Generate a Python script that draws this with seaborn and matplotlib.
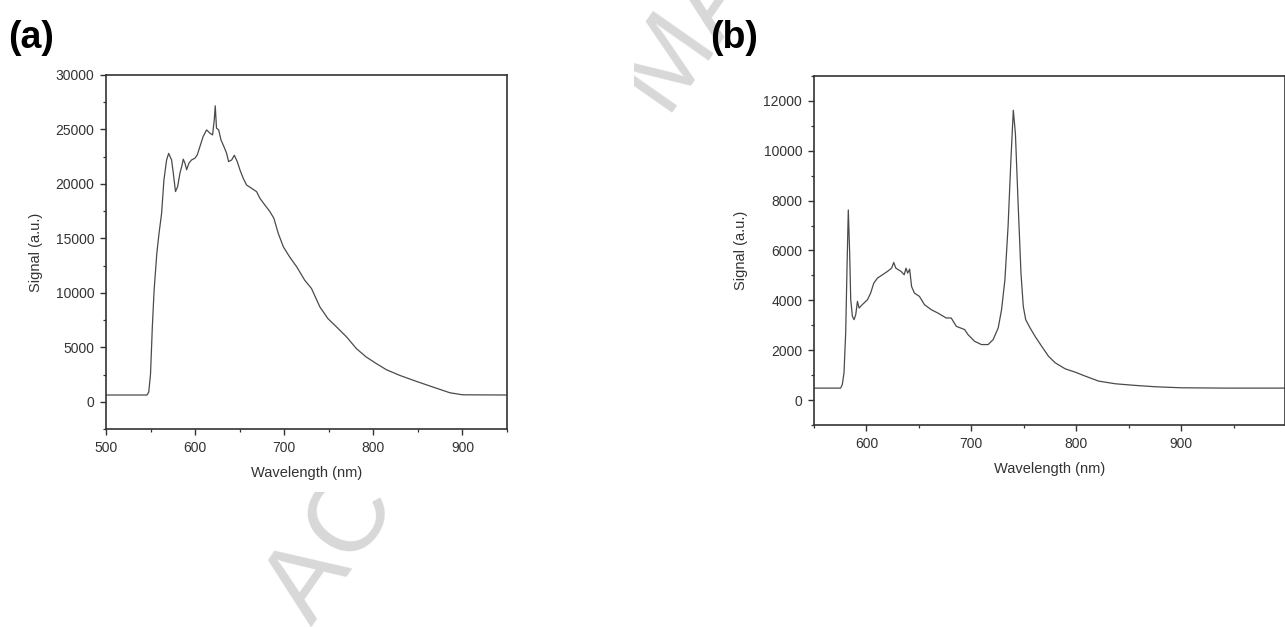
import numpy as np
import pandas as pd
import matplotlib
matplotlib.use("Agg")
import matplotlib.pyplot as plt
from matplotlib.patches import Rectangle
from matplotlib.ticker import MultipleLocator
import seaborn as sns

# panel (a): broad emission spectrum
wl_a = [500, 546, 548, 550, 552, 554, 557, 559.5, 562.4, 565, 568, 570.3, 573.6,
        575.5, 578, 580.4, 583, 585, 586.7, 588.6, 590.5, 593, 596, 599.8, 602.4,
        605.4, 609, 612.9, 616.6, 619.6, 621.5, 622.6, 624, 626.4, 629, 632.3,
        635.3, 637.6, 641, 644, 647.3, 650.3, 654, 657.7, 663.4, 669, 672.7,
        678.3, 684, 688.4, 693.3, 699, 706, 714, 723, 730.6, 740, 749, 758.7,
        770, 781, 792, 803.5, 814.7, 829.7, 848.4, 867, 885.8, 900, 950]
sig_a = [620, 620, 900, 2600, 6900, 10250, 13600, 15460, 17300, 20360, 22200,
         22800, 22200, 21000, 19300, 19750, 21000, 21600, 22270, 21900, 21300,
         21900, 22200, 22360, 22660, 23430, 24350, 24960, 24660, 24500, 25890,
         27170, 25120, 24960, 24050, 23430, 22820, 22050, 22200, 22630, 22050,
         21290, 20520, 19900, 19600, 19290, 18680, 18060, 17450, 16840, 15460,
         14230, 13310, 12390, 11160, 10400, 8710, 7640, 6870, 5950, 4880, 4110,
         3500, 2940, 2420, 1870, 1350, 830, 640, 620]

# panel (b): spectrum with two sharp lines
wl_b = [550, 575.4, 577, 578.6, 580.2, 581.5, 582.7, 584, 585, 586.6, 588.2,
        589.8, 591.4, 593, 596, 601, 604, 607, 610.5, 615.3, 620, 624, 626,
        628, 633, 636, 637.7, 639.3, 641.2, 643, 645.7, 650.5, 655.3, 661.7,
        668, 676, 680.8, 685.6, 693.6, 696.8, 703, 709.6, 716, 720.8, 725.6,
        728.8, 732, 735, 737.7, 740, 742, 744.7, 747.3, 749.5, 751.8, 756,
        760.7, 767, 773.5, 780, 789.5, 799, 808.6, 821.4, 837.4, 856.6, 875.8,
        900, 942, 1000]
sig_b = [480, 480, 627, 1093, 2693, 5360, 7627, 5893, 4027, 3360, 3227, 3427,
         3960, 3693, 3827, 4027, 4293, 4693, 4893, 5027, 5160, 5293, 5520, 5293,
         5160, 5027, 5293, 5093, 5253, 4560, 4293, 4160, 3827, 3627, 3493, 3293,
         3293, 2960, 2827, 2627, 2360, 2227, 2227, 2427, 2893, 3627, 4827, 6960,
         9627, 11627, 10693, 7760, 5093, 3760, 3227, 2893, 2560, 2160, 1760,
         1493, 1253, 1120, 960, 760, 653, 587, 533, 493, 480, 480]

LINE_COLOR = "#4a4a4a"
AXIS_COLOR = "#333333"
W, H = 1285, 627

sns.set_style("ticks")
plt.rcParams["font.family"] = ["Liberation Sans", "DejaVu Sans"]


def style_axis(ax, xmajor, ymajor, ypad):
    ax.xaxis.set_major_locator(MultipleLocator(xmajor))
    ax.xaxis.set_minor_locator(MultipleLocator(xmajor / 2))
    ax.yaxis.set_major_locator(MultipleLocator(ymajor))
    ax.yaxis.set_minor_locator(MultipleLocator(ymajor / 2))
    ax.tick_params(which="major", direction="out", length=4, width=1,
                   color=AXIS_COLOR, labelcolor=AXIS_COLOR, labelsize=10,
                   pad=4.5, top=False, right=False)
    ax.tick_params(which="minor", direction="out", length=2.5, width=0.9,
                   color=AXIS_COLOR, top=False, right=False)
    for sp in ax.spines.values():
        sp.set_visible(True)
        sp.set_color(AXIS_COLOR)
        sp.set_linewidth(1.2)
    ax.set_xlabel("Wavelength (nm)", fontsize=10.5, color=AXIS_COLOR,
                  labelpad=8)
    ax.set_ylabel("Signal (a.u.)", fontsize=10.5, color=AXIS_COLOR,
                  labelpad=ypad)
    ax.set_facecolor("white")


fig = plt.figure(figsize=(W / 100, H / 100), dpi=100)
fig.patch.set_facecolor("white")

# faint diagonal watermark, partly hidden behind the left panel
fig.text(312 / W, 1 - 627 / H, "ACCEPTED MANUSCRIPT", rotation=55,
         rotation_mode="anchor", ha="left", va="baseline", fontsize=78,
         color="#d8d8d8", zorder=-2)
fig.patches.append(Rectangle((0, 1 - 492 / H), 634 / W, (492 - 40) / H,
                             transform=fig.transFigure, facecolor="white",
                             edgecolor="none", zorder=-1))

ax_a = fig.add_axes([106 / W, 1 - 429 / H, 401 / W, 354 / H], zorder=1)
ax_b = fig.add_axes([814 / W, 1 - 425 / H, 471 / W, 349 / H], zorder=1)

df_a = pd.DataFrame({"wl": wl_a, "signal": sig_a})
df_b = pd.DataFrame({"wl": wl_b, "signal": sig_b})

sns.lineplot(data=df_a, x="wl", y="signal", ax=ax_a, color=LINE_COLOR,
             linewidth=0.9, sort=False)
sns.lineplot(data=df_b, x="wl", y="signal", ax=ax_b, color=LINE_COLOR,
             linewidth=0.9, sort=False)

ax_a.set_xlim(500, 950)
ax_a.set_ylim(-2500, 30000)
style_axis(ax_a, 100, 5000, 9)

ax_b.set_xlim(550, 999)
ax_b.set_ylim(-1000, 13000)
style_axis(ax_b, 100, 2000, 11)

fig.text(8 / W, 1 - 38 / H, "(a)", fontsize=27, fontweight="bold",
         ha="left", va="center", color="black")
fig.text(710 / W, 1 - 38 / H, "(b)", fontsize=27, fontweight="bold",
         ha="left", va="center", color="black")

fig.savefig("out.png", dpi=100, facecolor="white")
